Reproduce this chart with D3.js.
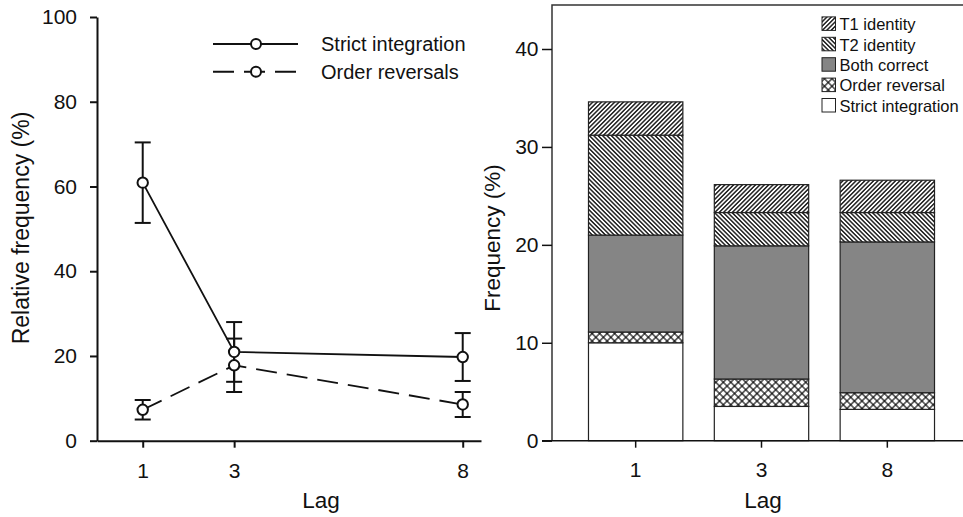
<!DOCTYPE html>
<html>
<head>
<meta charset="utf-8">
<script src="https://cdn.jsdelivr.net/npm/d3@7"></script>
<style>
  html, body { margin: 0; padding: 0; background: #fff; }
  svg { display: block; font-family: "Liberation Sans", Arial, sans-serif; }
</style>
</head>
<body>
<svg id="chart" width="963" height="517"></svg>
<script>
// ---------- Data ----------
const lags = [1, 3, 8];
const strictMean = [60.9, 20.95, 19.75];
const strictErr  = [9.5, 7.05, 5.65];
const orderMean  = [7.3, 17.8, 8.55];
const orderErr   = [2.3, 6.3, 2.95];
const leftYTicks = [0, 20, 40, 60, 80, 100];
const lineLegend = ["Strict integration", "Order reversals"];

const barCategories = ["1", "3", "8"];
const strictIntegration = [10.0, 3.5, 3.2];
const orderReversal     = [1.1, 2.8, 1.7];
const bothCorrect       = [9.9, 13.6, 15.4];
const t2Identity        = [10.2, 3.4, 3.0];
const t1Identity        = [3.4, 2.85, 3.3];
const rightYTicks = [0, 10, 20, 30, 40];
const stackKeys = ["Strict integration", "Order reversal", "Both correct", "T2 identity", "T1 identity"];
const legendOrder = ["T1 identity", "T2 identity", "Both correct", "Order reversal", "Strict integration"];

const svg = d3.select("#chart");
const ink = "#111";

// ---------- Patterns ----------
const defs = svg.append("defs");
function hatch(id, angle, size, sw) {
  const p = defs.append("pattern").attr("id", id).attr("patternUnits", "userSpaceOnUse")
    .attr("width", size).attr("height", size).attr("patternTransform", `rotate(${angle})`);
  p.append("rect").attr("width", size).attr("height", size).attr("fill", "#fff");
  p.append("line").attr("x1", size / 2).attr("x2", size / 2).attr("y1", 0).attr("y2", size)
    .attr("stroke", "#000").attr("stroke-width", sw);
}
hatch("t1", 45, 3.1, 1.3);
hatch("t2", -45, 3.1, 1.3);
(function () {
  const s = 5.3;
  const p = defs.append("pattern").attr("id", "cross").attr("patternUnits", "userSpaceOnUse")
    .attr("width", s).attr("height", s).attr("patternTransform", "rotate(45)");
  p.append("rect").attr("width", s).attr("height", s).attr("fill", "#fff");
  p.append("line").attr("x1", s / 2).attr("x2", s / 2).attr("y1", 0).attr("y2", s).attr("stroke", "#000").attr("stroke-width", 1.1);
  p.append("line").attr("y1", s / 2).attr("y2", s / 2).attr("x1", 0).attr("x2", s).attr("stroke", "#000").attr("stroke-width", 1.1);
})();
const fills = {
  "T1 identity": "url(#t1)",
  "T2 identity": "url(#t2)",
  "Both correct": "#858585",
  "Order reversal": "url(#cross)",
  "Strict integration": "#fff"
};

// ---------- Left chart ----------
const L = svg.append("g");
const xL = d3.scaleLinear().domain([0, 8.4]).range([97, 481]);
const yL = d3.scaleLinear().domain([0, 100]).range([440.7, 17]);

const yAxisL = L.append("g").attr("transform", `translate(${xL(0)},0)`)
  .call(d3.axisLeft(yL).tickValues(leftYTicks).tickSize(7).tickSizeOuter(0).tickPadding(13));
const xAxisL = L.append("g").attr("transform", `translate(0,${yL(0)})`)
  .call(d3.axisBottom(xL).tickValues(lags).tickFormat(d3.format("d")).tickSize(7).tickSizeOuter(0).tickPadding(15));
[yAxisL, xAxisL].forEach(a => {
  a.selectAll("path,line").attr("stroke", ink).attr("stroke-width", 2);
  a.selectAll("text").attr("font-size", 21).attr("fill", ink).attr("font-family", "Liberation Sans, Arial, sans-serif");
});

L.append("text").attr("transform", `translate(29,228) rotate(-90)`).attr("text-anchor", "middle")
  .attr("font-size", 23).attr("fill", ink).text("Relative frequency (%)");
L.append("text").attr("x", 321).attr("y", 508).attr("text-anchor", "middle")
  .attr("font-size", 22.5).attr("fill", ink).text("Lag");

const seriesL = [
  { name: lineLegend[0], mean: strictMean, err: strictErr, dash: null },
  { name: lineLegend[1], mean: orderMean, err: orderErr, dash: "21,10" }
];
const lineGen = d3.line().x(d => xL(d.lag)).y(d => yL(d.v));
seriesL.forEach(s => {
  const pts = lags.map((lag, i) => ({ lag, v: s.mean[i], e: s.err[i] }));
  L.append("path").datum(pts).attr("d", lineGen).attr("fill", "none").attr("stroke", ink)
    .attr("stroke-width", 1.8).attr("stroke-dasharray", s.dash);
  const eb = L.append("g");
  pts.forEach(p => {
    eb.append("line").attr("x1", xL(p.lag)).attr("x2", xL(p.lag)).attr("y1", yL(p.v - p.e)).attr("y2", yL(p.v + p.e))
      .attr("stroke", ink).attr("stroke-width", 2);
    [p.v - p.e, p.v + p.e].forEach(c => {
      eb.append("line").attr("x1", xL(p.lag) - 8).attr("x2", xL(p.lag) + 8).attr("y1", yL(c)).attr("y2", yL(c))
        .attr("stroke", ink).attr("stroke-width", 2);
    });
  });
  s.pts = pts;
});
seriesL.forEach(s => {
  L.selectAll(null).data(s.pts).enter().append("circle")
    .attr("cx", d => xL(d.lag)).attr("cy", d => yL(d.v)).attr("r", 5.2)
    .attr("fill", "#fff").attr("stroke", ink).attr("stroke-width", 2);
});

// legend left
const legL = L.append("g");
[44, 71.7].forEach((yy, i) => {
  legL.append("line").attr("x1", 213).attr("x2", 298).attr("y1", yy).attr("y2", yy)
    .attr("stroke", ink).attr("stroke-width", 2).attr("stroke-dasharray", seriesL[i].dash);
  legL.append("circle").attr("cx", 256).attr("cy", yy).attr("r", 5).attr("fill", "#fff")
    .attr("stroke", ink).attr("stroke-width", 2);
  legL.append("text").attr("x", 321).attr("y", yy + 7.2).attr("font-size", 20).attr("fill", ink).text(lineLegend[i]);
});

// ---------- Right chart ----------
const R = svg.append("g");
const xR = d3.scaleBand().domain(barCategories).range([552, 971]).paddingInner(0.25).paddingOuter(0.29).align(0.5);
const yR = d3.scaleLinear().domain([0, 40]).range([440.7, 49]);

const table = barCategories.map((c, i) => ({
  cat: c,
  "Strict integration": strictIntegration[i],
  "Order reversal": orderReversal[i],
  "Both correct": bothCorrect[i],
  "T2 identity": t2Identity[i],
  "T1 identity": t1Identity[i]
}));
const stacked = d3.stack().keys(stackKeys)(table);
stacked.forEach(layer => {
  R.append("g").selectAll("rect").data(layer).enter().append("rect")
    .attr("x", d => xR(d.data.cat)).attr("width", xR.bandwidth())
    .attr("y", d => yR(d[1])).attr("height", d => yR(d[0]) - yR(d[1]))
    .attr("fill", fills[layer.key]).attr("stroke", "#222").attr("stroke-width", 1.2);
});

// frame
const topY = yR(44.5);
R.append("path").attr("d", `M552,${yR(0)} V${topY} H971`).attr("fill", "none").attr("stroke", "#333").attr("stroke-width", 1.5);
R.append("line").attr("x1", 542).attr("x2", 971).attr("y1", yR(0)).attr("y2", yR(0)).attr("stroke", ink).attr("stroke-width", 1.5);

const yAxisR = R.append("g").attr("transform", "translate(552,0)")
  .call(d3.axisLeft(yR).tickValues(rightYTicks).tickSize(10).tickPadding(3.5));
const xAxisR = R.append("g").attr("transform", `translate(0,${yR(0)})`)
  .call(d3.axisBottom(xR).tickSize(7).tickPadding(14.5));
[yAxisR, xAxisR].forEach(a => {
  a.select(".domain").remove();
  a.selectAll("line").attr("stroke", ink).attr("stroke-width", 1.5);
  a.selectAll("text").attr("font-size", 21).attr("fill", ink).attr("font-family", "Liberation Sans, Arial, sans-serif");
});

R.append("text").attr("transform", `translate(500,238) rotate(-90)`).attr("text-anchor", "middle")
  .attr("font-size", 22.5).attr("fill", ink).text("Frequency (%)");
R.append("text").attr("x", 763).attr("y", 508).attr("text-anchor", "middle")
  .attr("font-size", 22.5).attr("fill", ink).text("Lag");

// legend right
const legR = R.append("g");
legendOrder.forEach((k, i) => {
  const top = 16.9 + i * 20.4;
  legR.append("rect").attr("x", 822).attr("y", top).attr("width", 13.5).attr("height", 13.5)
    .attr("fill", fills[k]).attr("stroke", "#222").attr("stroke-width", 1);
  legR.append("text").attr("x", 839.5).attr("y", top + 13.3).attr("font-size", 16.5).attr("fill", ink).text(k);
});
</script>
</body>
</html>
